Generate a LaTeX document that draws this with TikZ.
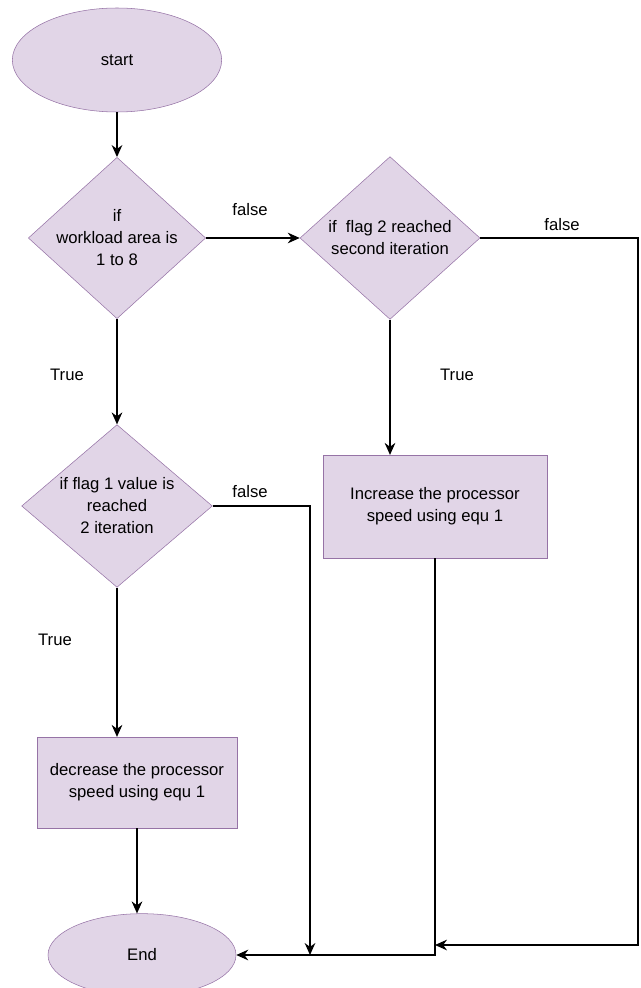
\documentclass[tikz,border=0pt]{standalone}
\usepackage{fontspec}
\setmainfont{Liberation Sans}
\usetikzlibrary{shapes.geometric,arrows.meta}
\definecolor{boxfill}{HTML}{E1D5E7}
\definecolor{boxline}{HTML}{9673A6}
\begin{document}
\begin{tikzpicture}[x=0.75pt,y=-0.75pt,
  font=\fontsize{12.5}{16.5}\selectfont,
  term/.style={ellipse, draw=boxline, fill=boxfill, inner sep=0},
  decision/.style={diamond, draw=boxline, fill=boxfill, inner sep=-4pt, align=center},
  proc/.style={rectangle, draw=boxline, fill=boxfill, align=center},
  arr/.style={-{Stealth[length=9pt,width=8pt]}, line width=1pt}]
\useasboundingbox (0,0) rectangle (640,988);
\node[term, minimum width=157pt, minimum height=78pt] (fl0) at (117,60){start};
\node[decision, minimum width=133pt, minimum height=121pt, aspect=1.09] (fl1) at (117,238){if\\workload area is\\1 to 8};
\node[decision, minimum width=135pt, minimum height=122pt, aspect=1.1] (fl2) at (390,238){if~ flag 2 reached\\second iteration};
\node[decision, minimum width=143pt, minimum height=122pt, aspect=1.17] (fl3) at (117,506){if flag 1 value is\\reached\\2 iteration};
\node[proc, minimum width=168pt, minimum height=77pt] (fl4) at (435,506.5){Increase the processor\\speed using equ 1};
\node[proc, minimum width=150pt, minimum height=68pt] (fl5) at (137,782.5){decrease the processor\\speed using equ 1};
\node[term, minimum width=141pt, minimum height=62pt] (fl6) at (142,955){End};
\coordinate (fr0) at (638,238);
\coordinate (fj0) at (435,945);
\coordinate (fj1) at (310,955);
\draw[arr](fl0) -- (fl1);
\draw[arr](fl1) -- (fl2);
\draw[arr](fl1) -- (fl3);
\draw[arr](fl2) -- (fl2|-fl4.north);
\draw[arr](fl3) -- (fl3|-fl5.north);
\draw[arr](fl5) -- (fl5|-fl6.north);
\draw[arr](fl2.east) -- (fr0) |- (fj0);
\draw[arr](fl3.east) -| (fj1);
\draw[arr](fl4.south) |- (fl6.east);
\node (lb0) at (250,210){false};
\node (lb1) at (562,225){false};
\node (lb2) at (250,492){false};
\node (lb3) at (67,375){True};
\node (lb4) at (457,375){True};
\node (lb5) at (55,640){True};
\end{tikzpicture}
\end{document}
